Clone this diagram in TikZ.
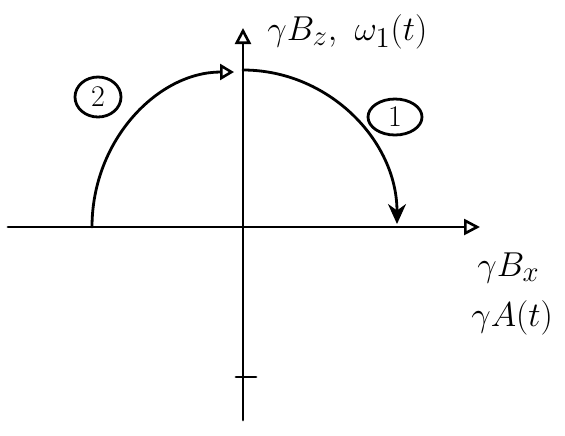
\documentclass[tikz,border=0pt]{standalone}
\usetikzlibrary{arrows.meta,shapes.geometric}
\begin{document}
\begin{tikzpicture}[x=0.5pt,y=-0.5pt, line width=1.4pt, line cap=round,
  opentip/.style={-{Triangle[open,length=8pt,width=8pt,line width=1.3pt]}},
  lbl/.style={font=\fontsize{19}{22}\selectfont, inner sep=1pt},
  circled/.style={draw, ellipse, inner sep=0pt, font=\fontsize{15}{17}\selectfont}]
\useasboundingbox (0,0) rectangle (565,435);
\coordinate (xl) at (8,227);
\coordinate (xr) at (480,227);
\coordinate (yt) at (243,28);
\coordinate (yb) at (243,420);
\coordinate (a2s) at (92,227);
\coordinate (top) at (243,70);
\coordinate (a2e) at (234,72);
\coordinate (a1e) at (397,224);
\coordinate (tl) at (236,377);
\coordinate (tr) at (256,377);
% axes
\draw[opentip] (xl) -- (xr);
\draw[opentip] (yb) -- (yt);
\draw (tl) -- (tr);
% arcs
\draw[-{Stealth[length=10pt,width=9pt]}] (top) .. controls (328,70) and (397,140) .. (a1e);
\draw[-{Triangle[open,length=7pt,width=8pt,line width=1.3pt]}] (a2s) .. controls (92,140) and (158,72) .. (a2e);
% labels
\node[lbl, anchor=west] (ylab) at (264,32) {$\gamma B_z,\ \omega_1(t)$};
\node[lbl, anchor=west] (xlab1) at (474,268) {$\gamma B_x$};
\node[lbl, anchor=west] (xlab2) at (468,318) {$\gamma A(t)$};
\node[circled, minimum width=23pt, minimum height=20pt] (c2) at (98,97) {2};
\node[circled, minimum width=27pt, minimum height=18pt] (c1) at (395,117) {1};
\end{tikzpicture}
\end{document}
